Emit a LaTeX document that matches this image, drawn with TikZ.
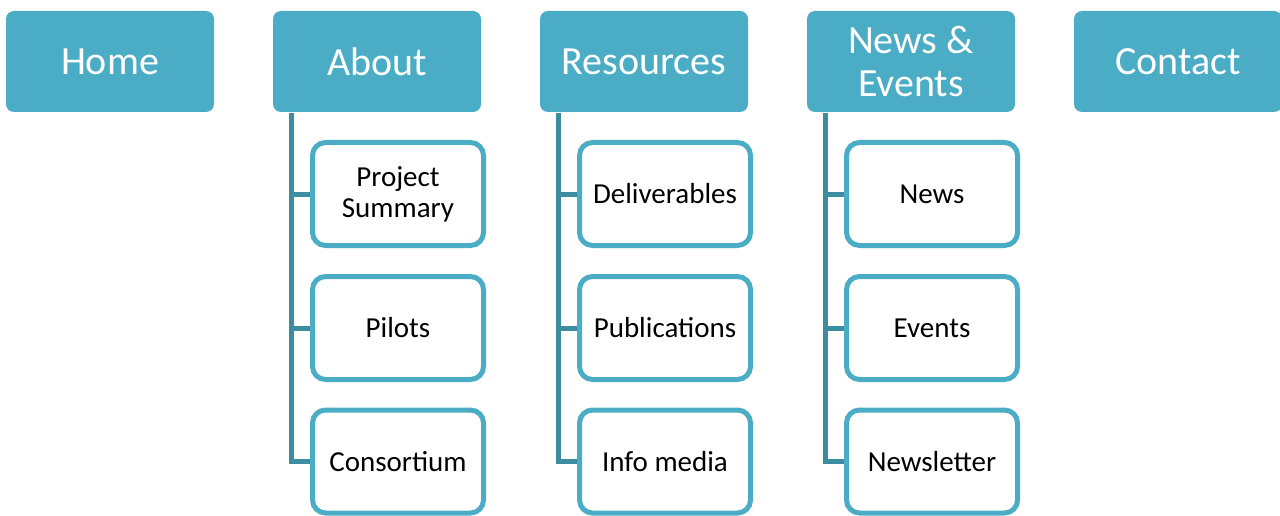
\documentclass[tikz,border=0pt]{standalone}
\usepackage{fontspec}
\setmainfont{Carlito}
\definecolor{aqua}{HTML}{4BACC6}
\definecolor{conn}{HTML}{3D8CA0}
\begin{document}
\begin{tikzpicture}[x=1pt,y=-1pt,
  topbox/.style={fill=aqua,draw=none,rounded corners=8pt,minimum width=208pt,minimum height=101pt,
    text=white,font=\fontsize{40}{43}\selectfont,align=center,inner sep=0pt},
  childbox/.style={fill=white,draw=aqua,line width=5pt,rounded corners=13pt,minimum width=171pt,minimum height=103pt,
    text=black,font=\fontsize{29}{31}\selectfont,align=center,inner sep=0pt},
  link/.style={draw=conn,line width=5pt}]
\useasboundingbox (0,0) rectangle (1280,516);
\node[topbox] (home) at (110,61.5) {Home};
\node[topbox] (about) at (377,61.5) {About};
\node[topbox] (res) at (644,61.5) {Resources};
\node[topbox] (news) at (911,61.5) {News \&\\Events};
\node[topbox] (contact) at (1178,61.5) {Contact};
% children positions
\coordinate (aL) at (291.5,113);
\coordinate (rL) at (558.5,113);
\coordinate (nL) at (825.5,113);
\node[childbox,draw=none,fill=none] (a1) at (398,194) {};
\node[childbox,draw=none,fill=none] (a2) at (398,328) {};
\node[childbox,draw=none,fill=none] (a3) at (398,461.5) {};
\node[childbox,draw=none,fill=none] (r1) at (665,194) {};
\node[childbox,draw=none,fill=none] (r2) at (665,328) {};
\node[childbox,draw=none,fill=none] (r3) at (665,461.5) {};
\node[childbox,draw=none,fill=none] (n1) at (932,194) {};
\node[childbox,draw=none,fill=none] (n2) at (932,328) {};
\node[childbox,draw=none,fill=none] (n3) at (932,461.5) {};
% connectors
\foreach \L/\p in {aL/a,rL/r,nL/n}{
  \draw[link] (\L) |- (\p3.west);
  \draw[link] (\L |- \p1.west) -- (\p1.west);
  \draw[link] (\L |- \p2.west) -- (\p2.west);
}
\node[childbox] at (a1) {Project\\Summary};
\node[childbox] at (a2) {Pilots};
\node[childbox] at (a3) {Consortium};
\node[childbox] at (r1) {Deliverables};
\node[childbox] at (r2) {Publications};
\node[childbox] at (r3) {Info media};
\node[childbox] at (n1) {News};
\node[childbox] at (n2) {Events};
\node[childbox] at (n3) {Newsletter};
\end{tikzpicture}
\end{document}
